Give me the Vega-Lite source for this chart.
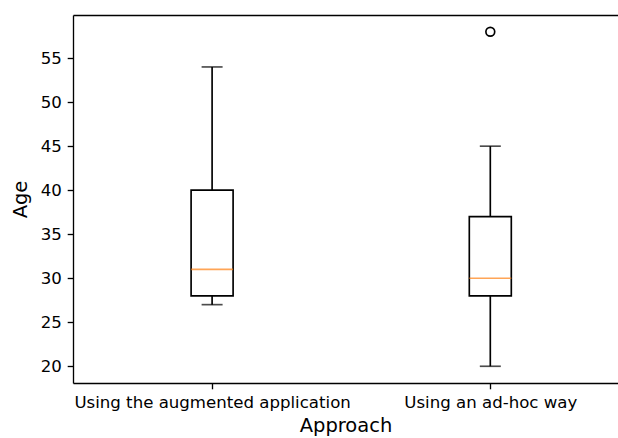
{
  "$schema": "https://vega.github.io/schema/vega-lite/v6.json",
  "width": 545,
  "height": 368,
  "autosize": {"type": "none"},
  "padding": {"left": 73, "top": 15, "right": 0, "bottom": 55},
  "background": "white",
  "config": {
    "view": {"stroke": null},
    "axis": {
      "grid": false,
      "domainColor": "black",
      "domainWidth": 1.33,
      "tickColor": "black",
      "tickWidth": 1.33,
      "tickSize": 5.8,
      "labelPadding": 5.8,
      "labelLimit": 500,
      "labelFont": "DejaVu Sans",
      "labelFontSize": 16.6,
      "labelColor": "black",
      "titleFont": "DejaVu Sans",
      "titleFontSize": 19.5,
      "titleFontWeight": "normal",
      "titleColor": "black"
    }
  },
  "datasets": {
    "boxes": [
      {"approach": "Using the augmented application", "pos": 1, "low": 27, "q1": 28, "median": 31, "q3": 40, "high": 54},
      {"approach": "Using an ad-hoc way", "pos": 2, "low": 20, "q1": 28, "median": 30, "q3": 37, "high": 45}
    ],
    "outliers": [
      {"approach": "Using an ad-hoc way", "pos": 2, "age": 58}
    ]
  },
  "resolve": {"axis": {"x": "independent"}},
  "layer": [
    {
      "data": {"name": "boxes"},
      "mark": {"type": "rule", "color": "black", "strokeWidth": 1.67},
      "encoding": {
        "x": {"field": "pos", "type": "quantitative", "scale": {"domain": [0.5, 2.459], "nice": false, "zero": false, "padding": 0},
          "axis": {"values": [1, 2], "title": "Approach", "titlePadding": 5.5,
            "labelExpr": "datum.value == 1 ? 'Using the augmented application' : 'Using an ad-hoc way'"}},
        "y": {"field": "q3", "type": "quantitative", "scale": {"domain": [18.1, 59.9], "nice": false, "zero": false, "padding": 0},
          "axis": {"values": [20, 25, 30, 35, 40, 45, 50, 55], "title": "Age", "titlePadding": 10}},
        "y2": {"field": "high"}
      }
    },
    {
      "data": {"name": "boxes"},
      "mark": {"type": "rule", "color": "black", "strokeWidth": 1.67},
      "encoding": {
        "x": {"field": "pos", "type": "quantitative", "axis": null},
        "y": {"field": "low", "type": "quantitative"},
        "y2": {"field": "q1"}
      }
    },
    {
      "data": {"name": "boxes"},
      "mark": {"type": "bar", "orient": "vertical", "width": 42, "fill": "white", "stroke": "black", "strokeWidth": 1.67},
      "encoding": {
        "x": {"field": "pos", "type": "quantitative", "axis": null},
        "y": {"field": "q1", "type": "quantitative"},
        "y2": {"field": "q3"}
      }
    },
    {
      "data": {"name": "boxes"},
      "mark": {"type": "tick", "orient": "horizontal", "size": 21, "thickness": 1.67, "color": "black"},
      "encoding": {
        "x": {"field": "pos", "type": "quantitative", "axis": null},
        "y": {"field": "low", "type": "quantitative"}
      }
    },
    {
      "data": {"name": "boxes"},
      "mark": {"type": "tick", "orient": "horizontal", "size": 21, "thickness": 1.67, "color": "black"},
      "encoding": {
        "x": {"field": "pos", "type": "quantitative", "axis": null},
        "y": {"field": "high", "type": "quantitative"}
      }
    },
    {
      "data": {"name": "boxes"},
      "mark": {"type": "tick", "orient": "horizontal", "size": 42, "thickness": 1.67, "color": "#ff7f0e"},
      "encoding": {
        "x": {"field": "pos", "type": "quantitative", "axis": null},
        "y": {"field": "median", "type": "quantitative"}
      }
    },
    {
      "data": {"name": "outliers"},
      "mark": {"type": "point", "shape": "circle", "filled": false, "stroke": "black", "strokeWidth": 1.67, "size": 78, "opacity": 1},
      "encoding": {
        "x": {"field": "pos", "type": "quantitative",
          "axis": {"orient": "top", "labels": false, "ticks": false, "title": null, "domain": true}},
        "y": {"field": "age", "type": "quantitative"}
      }
    }
  ]
}
